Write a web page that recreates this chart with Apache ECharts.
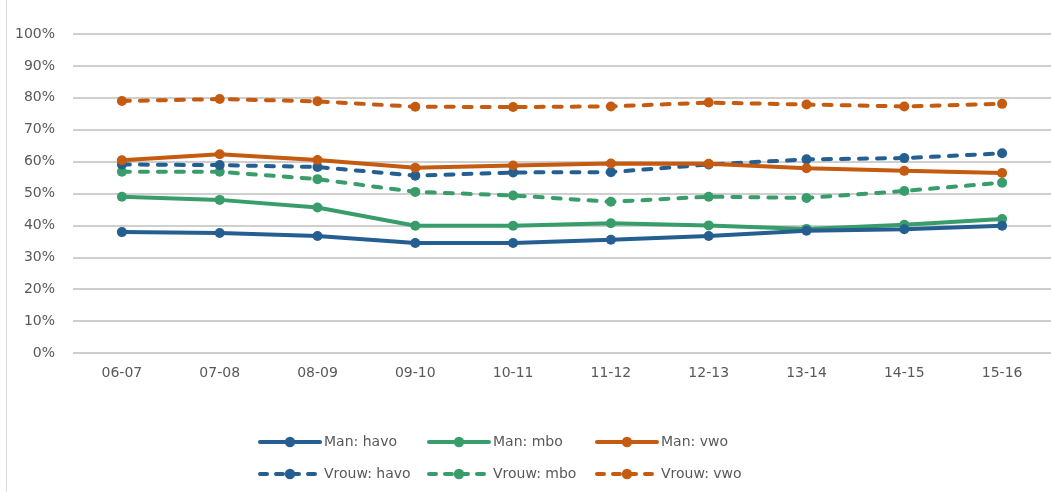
<!DOCTYPE html>
<html>
<head>
<meta charset="utf-8">
<script src="https://cdn.jsdelivr.net/npm/echarts@6/dist/echarts.min.js"></script>
<style>html,body{margin:0;padding:0;background:#fff;}#c{width:1051px;height:492px;}</style>
</head>
<body>
<div id="c"></div>
<script>
const categories = ['06-07','07-08','08-09','09-10','10-11','11-12','12-13','13-14','14-15','15-16'];
const yTicks = [0,10,20,30,40,50,60,70,80,90,100];
const manHavo   = [37.9, 37.6, 36.7, 34.5, 34.5, 35.5, 36.7, 38.3, 38.8, 39.9];
const manMbo    = [49.0, 48.0, 45.6, 39.9, 39.9, 40.7, 40.0, 38.9, 40.2, 42.0];
const manVwo    = [60.4, 62.3, 60.5, 58.1, 58.8, 59.4, 59.3, 57.9, 57.1, 56.4];
const vrouwHavo = [59.1, 58.9, 58.3, 55.6, 56.6, 56.7, 59.1, 60.7, 61.1, 62.6];
const vrouwMbo  = [56.8, 56.8, 54.5, 50.5, 49.4, 47.4, 49.0, 48.6, 50.8, 53.4];
const vrouwVwo  = [79.0, 79.6, 78.9, 77.2, 77.1, 77.3, 78.5, 77.9, 77.3, 78.1];

const names = ['Man: havo','Man: mbo','Man: vwo','Vrouw: havo','Vrouw: mbo','Vrouw: vwo'];
const datas = [manHavo, manMbo, manVwo, vrouwHavo, vrouwMbo, vrouwVwo];
const colors = ['#255E91','#389D6B','#C55A11','#255E91','#389D6B','#C55A11'];
const FONT = 'DejaVu Sans';
const TXT = '#595959';
const LW = 4;

const series = names.map((n,i)=>({
  name: n, type: 'line', data: datas[i],
  symbol: 'circle', symbolSize: 10,
  z: 10 - i,
  itemStyle: { color: colors[i] },
  lineStyle: { width: LW, color: colors[i], type: i >= 3 ? [8, 10] : 'solid', cap: 'round' },
  emphasis: { disabled: true }
}));

const legendCols = [258, 427, 595];
const legendRows = [435, 467];
const legends = names.map((n,i)=>({
  data: [n],
  left: legendCols[i % 3], top: legendRows[Math.floor(i/3)],
  itemWidth: 60, itemHeight: 13, itemGap: 0,
  lineStyle: { width: LW, cap: 'round', type: i >= 3 ? [7, 9] : 'solid' },
  textStyle: { fontFamily: FONT, fontSize: 14, color: TXT, padding: [0,0,0,-1] },
  padding: 0,
  selectedMode: false
}));

const chart = echarts.init(document.getElementById('c'), null, { renderer: 'canvas' });
chart.setOption({
  animation: false,
  backgroundColor: '#fff',
  graphic: [{ type: 'line', shape: { x1: 6.5, y1: 0, x2: 6.5, y2: 492 }, style: { stroke: '#d9d9d9', lineWidth: 1 } }],
  grid: { left: 73, right: 0, top: 34, bottom: 139, containLabel: false },
  legend: legends,
  xAxis: {
    type: 'category', data: categories, boundaryGap: true,
    axisLine: { show: false }, axisTick: { show: false },
    axisLabel: { fontFamily: FONT, fontSize: 14, color: TXT, margin: 13 }
  },
  yAxis: {
    type: 'value', min: yTicks[0], max: yTicks[yTicks.length-1], interval: 10,
    axisLine: { show: false }, axisTick: { show: false },
    axisLabel: { fontFamily: FONT, fontSize: 14, color: TXT, margin: 18, formatter: v => v + '%' },
    splitLine: { lineStyle: { color: '#bfbfbf', width: 1.5 } }
  },
  series: series
});
</script>
</body>
</html>
